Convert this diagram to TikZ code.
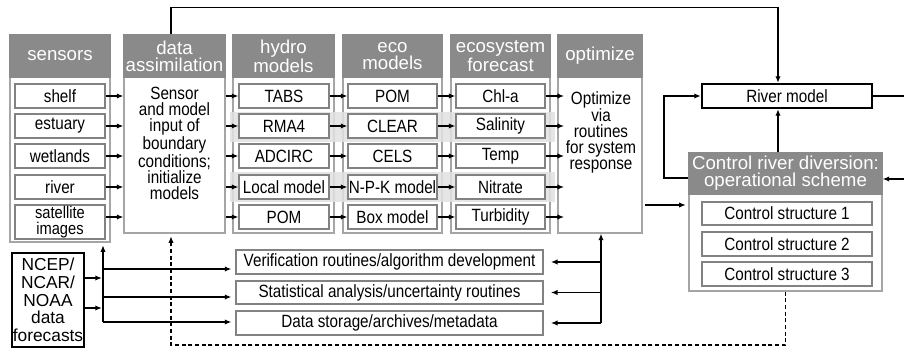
\documentclass[tikz,border=0pt]{standalone}
\usepackage{fontspec}
\setmainfont{Liberation Sans}
\newfontfamily\narrowfont{Liberation Sans}[FakeStretch=0.86]
\usetikzlibrary{arrows.meta,calc}
\definecolor{hdrgray}{RGB}{138,138,138}
\definecolor{colgray}{RGB}{165,165,165}
\definecolor{boxgray}{RGB}{130,130,130}
\definecolor{bandgray}{RGB}{225,225,225}
\newcommand\bodyfont{\narrowfont\fontsize{13.3}{12}\selectfont}
% box from pixel corners: name, x1, y1, x2, y2, style, text
\newcommand\bx[7]{\node[#6,minimum width={(#4-#2)*0.75pt},minimum height={(#5-#3)*0.75pt}] (#1) at ({(#2+#4)/2},{(#3+#5)/2}) {#7};}
\begin{document}
\begin{tikzpicture}[x=0.75pt,y=-0.75pt,
  colbox/.style={draw=colgray,fill=white,line width=0.8pt,inner sep=0pt},
  hdr/.style={fill=hdrgray,draw=hdrgray,line width=0.8pt,inner sep=0pt,text=white,align=center,font=\fontsize{14}{12.6}\selectfont},
  ibox/.style={draw=boxgray,fill=white,line width=0.8pt,inner sep=0pt,align=center,font=\bodyfont},
  tbox/.style={draw=black,fill=white,line width=1.6pt,inner sep=0pt,align=center},
  band/.style={fill=bandgray,opacity=0.85,inner sep=0pt},
  btext/.style={inner sep=0pt,align=center},
  arr/.style={-{Latex[length=5pt,width=4pt]},line width=1.1pt},
  ln/.style={line width=1.1pt},
  darr/.style={-{Latex[length=5pt,width=4pt]},line width=1.2pt,dash pattern=on 3pt off 2pt}]
\fill[white] (0,0) rectangle (904,349);
\useasboundingbox (0,0) rectangle (904,349);

% columns
\bx{sensCol}{10}{35}{110}{242}{colbox}{}
\bx{dataCol}{124}{35}{225}{233}{colbox}{}
\bx{hydCol}{233}{35}{334}{233}{colbox}{}
\bx{ecoCol}{343}{35}{442}{233}{colbox}{}
\bx{fcCol}{451}{35}{550}{233}{colbox}{}
\bx{optCol}{558}{35}{642}{233}{colbox}{}
% headers
\bx{sensHdr}{10}{35}{110}{77}{hdr}{sensors}
\bx{dataHdr}{124}{35}{225}{77}{hdr}{data\\assimilation}
\bx{hydHdr}{233}{35}{334}{77}{hdr}{hydro\\models}
\bx{ecoHdr}{343}{35}{442}{77}{hdr}{eco\\models}
\bx{fcHdr}{451}{35}{550}{77}{hdr}{ecosystem\\forecast}
\bx{optHdr}{558}{35}{642}{77}{hdr}{optimize}

% highlight bands
\bx{band1}{230}{112}{555}{142}{band}{}
\bx{band2}{230}{172}{555}{202}{band}{}

% sensors
\bx{s1}{15}{84}{105}{108}{ibox}{shelf}
\bx{s2}{15}{114}{105}{138}{ibox}{estuary}
\bx{s3}{15}{144}{105}{168}{ibox}{wetlands}
\bx{s4}{15}{175}{105}{199}{ibox}{river}
\bx{s5}{15}{205}{105}{239}{ibox,font=\narrowfont\fontsize{12.8}{12}\selectfont}{satellite\\images}

% hydro
\bx{h1}{239}{84}{329}{108}{ibox}{TABS}
\bx{h2}{239}{114}{329}{138}{ibox}{RMA4}
\bx{h3}{239}{144}{329}{168}{ibox}{ADCIRC}
\bx{h4}{239}{175}{329}{199}{ibox}{Local model}
\bx{h5}{239}{205}{329}{229}{ibox}{POM}
% eco
\bx{e1}{348}{84}{437}{108}{ibox}{POM}
\bx{e2}{348}{114}{437}{138}{ibox}{CLEAR}
\bx{e3}{348}{144}{437}{168}{ibox}{CELS}
\bx{e4}{348}{175}{437}{199}{ibox}{N-P-K model}
\bx{e5}{348}{205}{437}{229}{ibox}{Box model}
% forecast
\bx{f1}{456}{84}{545}{108}{ibox}{Chl-a}
\bx{f2}{456}{114}{545}{138}{ibox}{Salinity}
\bx{f3}{456}{144}{545}{168}{ibox}{Temp}
\bx{f4}{456}{175}{545}{199}{ibox}{Nitrate}
\bx{f5}{456}{205}{545}{229}{ibox}{Turbidity}

% column texts
\node[btext,anchor=north,font=\bodyfont] (dataTxt) at (174.5,87) {Sensor\\and model\\input of\\boundary\\conditions;\\initialize\\models};
\node[btext,anchor=north,font=\narrowfont\fontsize{13.3}{11.8}\selectfont] (optTxt) at (601,91) {Optimize\\via\\routines\\for system\\response};

% bottom routines
\bx{v1}{236}{250}{543}{274}{ibox}{Verification routines/algorithm development}
\bx{v2}{236}{281}{543}{304}{ibox}{Statistical analysis/uncertainty routines}
\bx{v3}{236}{311}{543}{335}{ibox}{Data storage/archives/metadata}

% NCEP
\bx{ncep}{12}{253}{84}{347}{tbox,font=\fontsize{13}{13.2}\selectfont}{NCEP/\\NCAR/\\NOAA\\data\\forecasts}

% right side
\bx{river}{702}{84}{872}{108}{tbox,font=\bodyfont}{River model}
\bx{ctrlCol}{689}{153}{882}{291}{colbox}{}
\bx{ctrlHdr}{689}{153}{882}{194}{hdr}{Control river diversion:\\operational scheme}
\bx{c1}{702}{202}{872}{225}{ibox}{Control structure 1}
\bx{c2}{702}{232}{872}{256}{ibox}{Control structure 2}
\bx{c3}{702}{262}{872}{286}{ibox}{Control structure 3}

% coordinates
\coordinate (fbtop) at (171,7.5);
\coordinate (cx) at (778,0);
\coordinate (edgeR) at (904,96);
\coordinate (rin) at (904,179);
\coordinate (lp) at (664,178);
\coordinate (oc) at (645,205);
\coordinate (rb) at (601,0);
\coordinate (lb) at (103,0);
\coordinate (lb1) at (103,269);
\coordinate (lb2) at (103,297);
\coordinate (lb3) at (103,322);
\coordinate (na) at (102,278);
\coordinate (nb) at (102,308);
\coordinate (dl) at (171,345);

% row arrows
\foreach \i in {1,2,3,4} {
  \draw[arr] (s\i.east) -- (s\i.east -| dataCol.west);
}
\draw[arr] ([yshift=3.75pt]s5.east) -- ([yshift=3.75pt]s5.east -| dataCol.west);
\foreach \i in {1,...,5} {
  \draw[arr] (dataCol.east |- h\i.west) -- (h\i.west);
  \draw[arr] (h\i.east) -- (e\i.west);
  \draw[arr] (e\i.east) -- (f\i.west);
  \draw[arr] (f\i.east) -- ([xshift=5pt]f\i.east -| optCol.west);
}

% top feedback
\draw[arr] (fbtop |- dataCol.north) -- (fbtop) -| (cx |- river.north);
\draw[arr] (cx |- ctrlHdr.north) -- (cx |- river.south);
\draw[ln] (river.east) -- (edgeR);
\draw[arr] (rin) -- (rin -| ctrlHdr.east);
\draw[arr] (lp -| ctrlHdr.west) -- (lp) |- (river.west);
\draw[arr] (oc) -- ([xshift=-2pt]oc -| ctrlCol.west);

% right bus
\draw[ln] (rb |- v1.east) -- (rb |- v3.east);
\draw[arr] (rb |- v3.east) -- (rb |- optCol.south);
\foreach \i in {1,2,3} {
  \draw[arr] (rb |- v\i.east) -- ([xshift=5.5pt]v\i.east);
}

% dashed loop
\draw[darr,shorten >=2pt] (ctrlCol.south) -- (ctrlCol.south |- dl) -- (dl) -- (dl |- dataCol.south);

% left bus
\draw[arr] (lb3) -- ([yshift=-2pt]lb |- sensCol.south);
\draw[arr] (lb1) -- ([xshift=-3pt]lb1 -| v1.west);
\draw[arr] (lb2) -- ([xshift=-3pt]lb2 -| v2.west);
\draw[arr] (lb3) -- ([xshift=-3pt]lb3 -| v3.west);
\draw[arr] (na -| ncep.east) -- (na);
\draw[arr] (nb -| ncep.east) -- (nb);
\end{tikzpicture}
\end{document}
